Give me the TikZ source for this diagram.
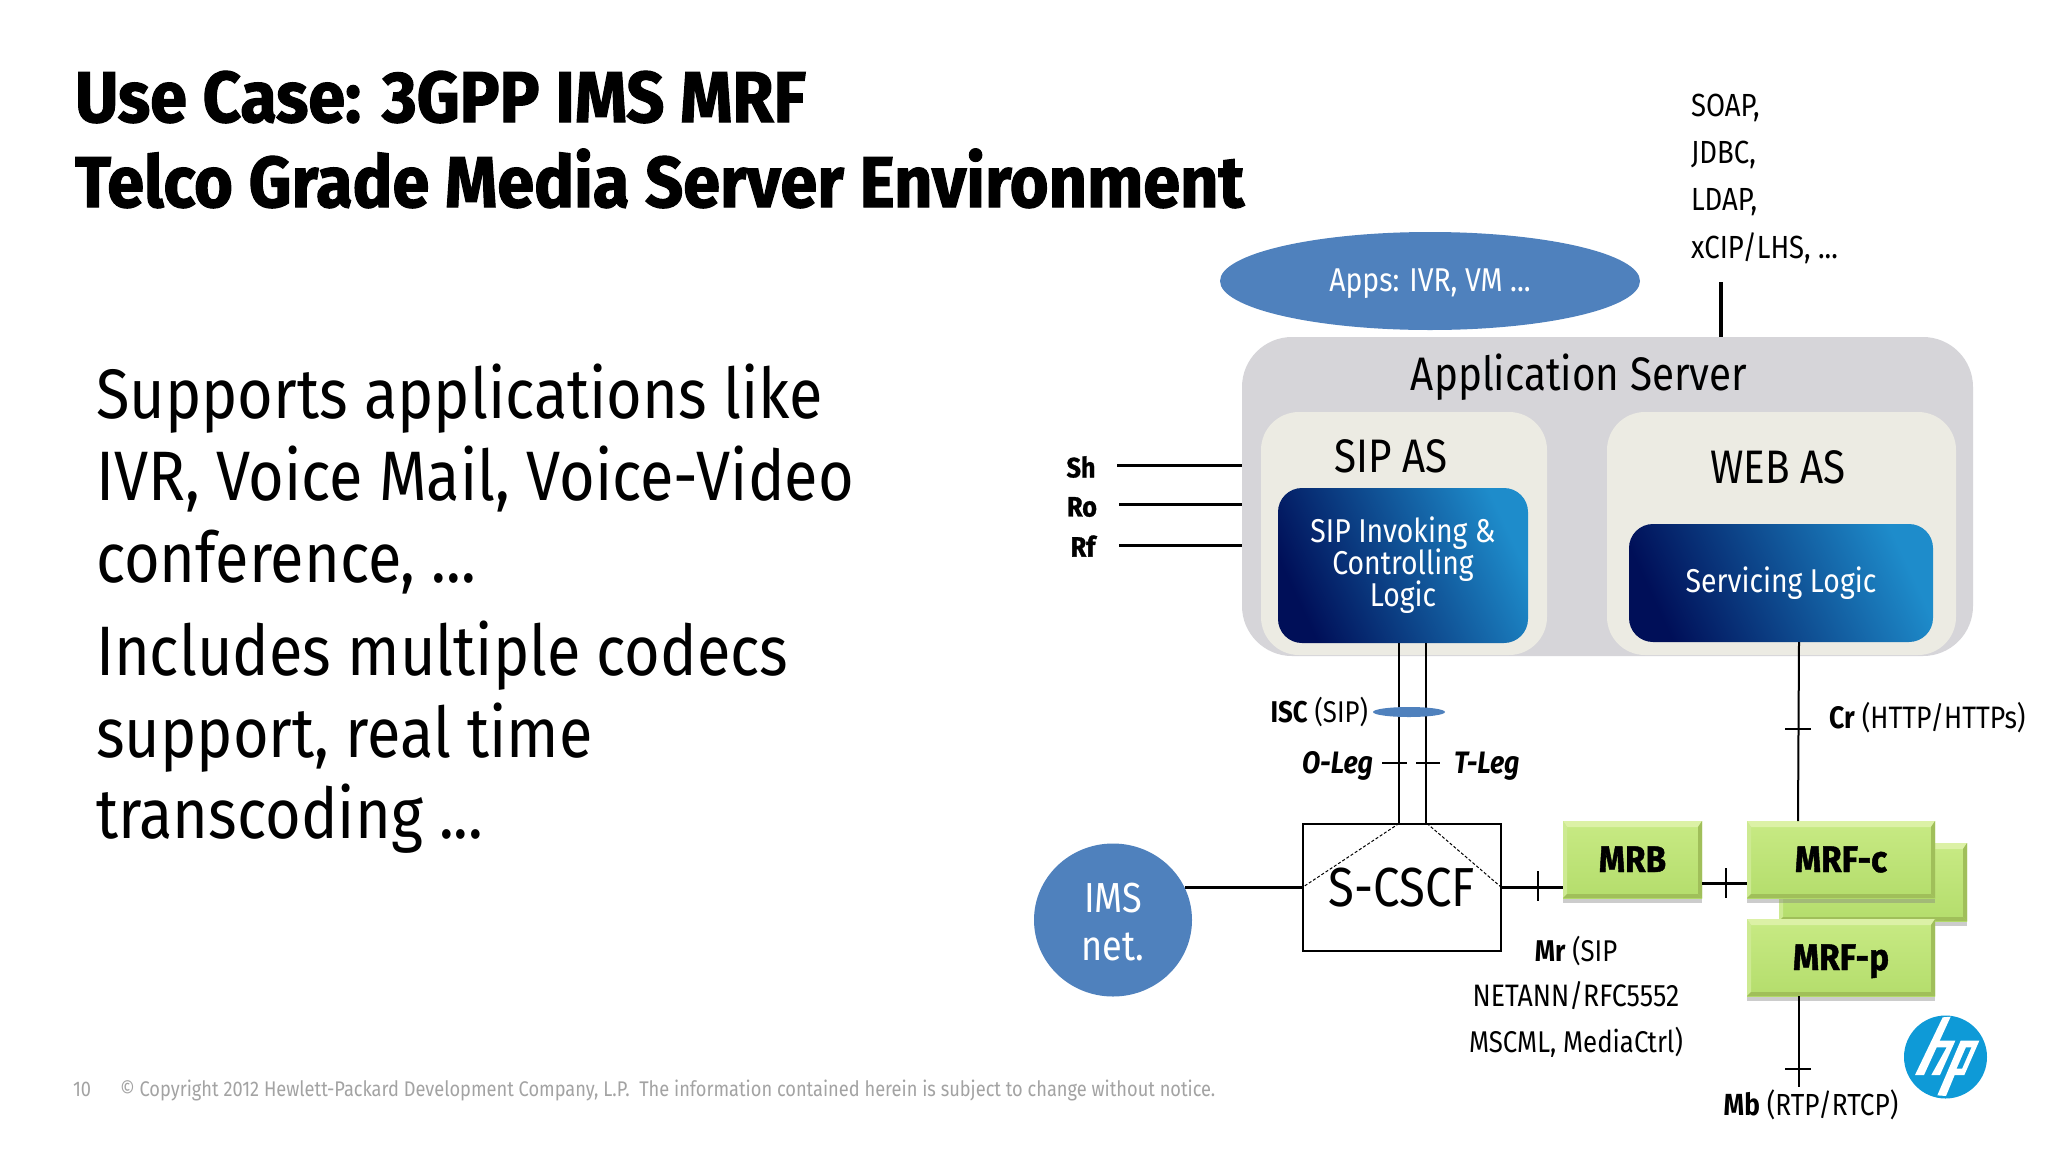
\documentclass[tikz,border=0pt]{standalone}
\usepackage{fontspec}
\setmainfont[FakeStretch=0.86]{Fira Sans}
\newfontfamily\heavyfont[FakeStretch=0.925,FakeBold=1.6]{Fira Sans Bold}
\newfontfamily\bodyfont[FakeStretch=0.875]{Fira Sans}
\newfontfamily\boxfont[FakeStretch=0.9,FakeBold=1.2]{Fira Sans Bold}
\usetikzlibrary{shapes.geometric,shadows}
\newcommand{\myfs}[1]{\fontsize{#1}{#1}\selectfont}
\definecolor{ablue}{HTML}{4F81BD}
\definecolor{asgrey}{HTML}{D6D5D9}
\definecolor{ascream}{HTML}{ECEBE3}
\definecolor{dkblue}{HTML}{000F58}
\definecolor{ltblue}{HTML}{1E8CCB}
\definecolor{grtop}{HTML}{C8EA84}
\definecolor{grbot}{HTML}{B4DD6C}
\definecolor{grlite}{HTML}{DCF1A6}
\definecolor{grleft}{HTML}{CDEA92}
\definecolor{grdark}{HTML}{A0BF5A}
\definecolor{foot}{HTML}{A3A3A3}
\definecolor{hpblue}{HTML}{0E9AD7}
\newcommand{\bevel}[1]{%
  \fill[grlite] (#1.north west) -- (#1.north east) -- ([shift={(-4pt,-6pt)}]#1.north east) -- ([shift={(4pt,-6pt)}]#1.north west) -- cycle;
  \fill[grleft] (#1.north west) -- ([shift={(4pt,-6pt)}]#1.north west) -- ([shift={(4pt,4pt)}]#1.south west) -- (#1.south west) -- cycle;
  \fill[grdark] (#1.north east) -- ([shift={(-4pt,-6pt)}]#1.north east) -- ([shift={(-4pt,4pt)}]#1.south east) -- (#1.south east) -- cycle;
  \fill[grdark] (#1.south west) -- ([shift={(4pt,4pt)}]#1.south west) -- ([shift={(-4pt,4pt)}]#1.south east) -- (#1.south east) -- cycle;}
\tikzset{
  x=1pt,y=-1pt,
  box/.style={inner sep=0pt,outer sep=0pt,align=center},
  wire/.style={draw=black,line width=3pt},
  thin wire/.style={draw=black,line width=2pt},
  tick/.style={draw=black,line width=2pt},
  graybox/.style={box,rectangle,rounded corners=50pt,fill=asgrey},
  cream/.style={box,rectangle,rounded corners=38pt,fill=ascream},
  logic/.style={box,rectangle,rounded corners=24pt,text=white,top color=ltblue,bottom color=dkblue,shading angle=-65},
  green/.style={box,rectangle,top color=grtop,bottom color=grbot,
     drop shadow={shadow xshift=0pt,shadow yshift=-5pt,fill=black!50,opacity=.4}},
  grtxt/.style={box,text height=24pt,text depth=0pt,font=\boxfont\myfs{37}},
  sm/.style={box,font=\myfs{32}},
  ttl/.style={box,anchor=base west,font=\heavyfont\myfs{72}},
  body/.style={box,anchor=base west,font=\bodyfont\myfs{70}},
  big/.style={box,font=\myfs{47}},
  ifl/.style={box,font=\boxfont\myfs{28}},
}
\begin{document}
\begin{tikzpicture}
\useasboundingbox (0,0) rectangle (2048,1152);
\fill[white] (0,0) rectangle (2048,1152);
% title and text
\node[ttl] (t1) at (75,122) {Use Case: 3GPP IMS MRF};
\node[ttl] (t2) at (75,207) {Telco Grade Media Server Environment};
\node[body] (b1) at (96,418) {Supports applications like};
\node[body] (b2) at (96,500) {IVR, Voice Mail, Voice-Video};
\node[body] (b3) at (96,582) {conference, ...};
\node[body] (b4) at (96,675) {Includes multiple codecs};
\node[body] (b5) at (96,757) {support, real time};
\node[body] (b6) at (96,838) {transcoding ...};
\node[box,anchor=base west,text=foot,font=\myfs{21.2}] (pg) at (73,1096) {10};
\node[box,anchor=base west,text=foot,font=\myfs{21.2}] (copy) at (120,1096) {© Copyright 2012 Hewlett-Packard Development Company, L.P.\ \ The information contained herein is subject to change without notice.};
% top
\node[box,ellipse,fill=ablue,minimum width=420pt,minimum height=98pt] (apps) at (1430,281) {};
\node[box,text=white,font=\myfs{33}] (appstxt) at (1430,284) {Apps: IVR, VM ...};
\node[sm,anchor=west] (soap) at (1691,108) {SOAP,};
\node[sm,anchor=west] (jdbc) at (1691,155) {JDBC,};
\node[sm,anchor=west] (ldap) at (1691,202) {LDAP,};
\node[sm,anchor=west] (xcip) at (1691,248) {xCIP/LHS, ...};
% application server
\node[graybox,minimum width=731pt,minimum height=319pt] (as) at (1607.5,496.5) {};
\node[big] (astxt) at (1579,377) {Application Server};
\node[cream,minimum width=286pt,minimum height=243pt] (sipas) at (1404,533.5) {};
\node[cream,minimum width=349pt,minimum height=243pt] (webas) at (1781.5,533.5) {};
\node[big] (siptxt) at (1391,456) {SIP AS};
\node[big] (webtxt) at (1778,467) {WEB AS};
\node[logic,minimum width=250pt,minimum height=155pt] (sipl) at (1403,565.5) {};
\node[box,text=white,font=\myfs{33}] (sipl1) at (1403,533) {SIP Invoking \&};
\node[box,text=white,font=\myfs{33}] (sipl2) at (1403,565) {Controlling};
\node[box,text=white,font=\myfs{33}] (sipl3) at (1403,597) {Logic};
\node[logic,minimum width=304pt,minimum height=118pt] (serv) at (1781,583) {};
\node[box,text=white,font=\myfs{33}] (servt) at (1781,583) {Servicing Logic};
% SOAP line
\coordinate (soapend) at (1721,282);
\draw[line width=3.4pt] (soapend) -- (soapend |- as.north);
% left interfaces
\coordinate (sh) at (1117,465);
\coordinate (ro) at (1119,504);
\coordinate (rf) at (1119,545);
\draw[wire] (sh) -- (sh -| as.west);
\draw[wire] (ro) -- (ro -| as.west);
\draw[wire] (rf) -- (rf -| as.west);
\node[ifl] (shl) at (1081,467) {Sh};
\node[ifl] (rol) at (1082,507) {Ro};
\node[ifl] (rfl) at (1083,546) {Rf};
% S-CSCF etc
\node[box,rectangle,draw=black,line width=2pt,minimum width=198pt,minimum height=127pt] (cscf) at (1402,887) {};
\node[box,font=\myfs{55}] (cscftxt) at (1402,888) {S-CSCF};
\node[box,ellipse,fill=ablue,minimum width=158pt,minimum height=153pt] (ims) at (1113,920) {};
\node[box,text=white,font=\myfs{42}] (ims1) at (1113,898) {IMS};
\node[box,text=white,font=\myfs{42}] (ims2) at (1113,947) {net.};
\node[green,minimum width=139pt,minimum height=77pt] (mrb) at (1632.5,859.5) {};
\bevel{mrb}
\node[grtxt] (mrbt) at (1632.5,860) {MRB};
\node[green,minimum width=188pt,minimum height=78pt] (back) at (1873,882) {};
\bevel{back}
\node[green,minimum width=188pt,minimum height=77pt] (mrfc) at (1841,859.5) {};
\bevel{mrfc}
\node[grtxt] (mrfct) at (1841,860) {MRF-c};
\node[green,minimum width=188pt,minimum height=77pt] (mrfp) at (1841,957.5) {};
\bevel{mrfp}
\node[grtxt] (mrfpt) at (1841,958) {MRF-p};
% connectors
\draw[thin wire] ([xshift=-4pt]sipl.south) -- ([xshift=-3pt]cscf.north);
\draw[thin wire] ([xshift=23pt]sipl.south) -- ([xshift=24pt]cscf.north);
\node[box,ellipse,fill=ablue,minimum width=72pt,minimum height=10pt] (isc) at (1409,712) {};
\node[box,anchor=east,font=\myfs{30}] (isctxt) at (1368,712) {\textbf{ISC} (SIP)};
\coordinate (ol) at (1382,763);
\coordinate (ole) at (1407,763);
\coordinate (tl) at (1416,763);
\coordinate (tle) at (1440,763);
\draw[tick] (ol) -- (ole);
\draw[tick] (tl) -- (tle);
\node[box,anchor=east,font=\bfseries\itshape\myfs{31}] (oleg) at (1373,766) {O-Leg};
\node[box,anchor=west,font=\bfseries\itshape\myfs{31}] (tleg) at (1454,766) {T-Leg};
\draw[densely dashed,line width=1pt] ([xshift=-3pt]cscf.north) -- (cscf.west);
\draw[densely dashed,line width=1pt] ([xshift=25pt]cscf.north) -- (cscf.east);
\draw[line width=3pt] ([xshift=-7pt]ims.east |- cscf.west) -- (cscf.west);
\draw[line width=3pt] (cscf.east) -- (mrb.west |- cscf.east);
\coordinate (t1a) at (1538,871);
\coordinate (t1b) at (1538,901);
\draw[tick] (t1a) -- (t1b);
\coordinate (mm) at (mrb.east |- 0,883);
\draw[line width=3pt] (mm) -- (mm -| mrfc.west);
\coordinate (t2a) at (1726,868);
\coordinate (t2b) at (1726,898);
\draw[tick] (t2a) -- (t2b);
\draw[thin wire] ([xshift=18pt]serv.south) -- ([xshift=-43pt]mrfc.north);
\coordinate (t3a) at (1785,729);
\coordinate (t3b) at (1811,729);
\draw[tick] (t3a) -- (t3b);
\node[box,anchor=west,font=\myfs{31}] (cr) at (1829,718) {\textbf{Cr} (HTTP/HTTPs)};
\coordinate (mbend) at (1799,1087);
\draw[thin wire] (mbend |- mrfp.south) -- (mbend);
\coordinate (t4a) at (1785,1069);
\coordinate (t4b) at (1811,1069);
\draw[tick] (t4a) -- (t4b);
\node[box,font=\myfs{30.5}] (mb) at (1811,1105) {\textbf{Mb} (RTP/RTCP)};
\node[box,font=\myfs{30}] (mr1) at (1576,951) {\textbf{Mr} (SIP};
\node[box,font=\myfs{31}] (mr2) at (1576,996) {NETANN/RFC5552};
\node[box,font=\myfs{30}] (mr3) at (1576,1042) {MSCML, MediaCtrl)};
% HP logo
\node[box,circle,fill=hpblue,minimum size=83pt] (hp) at (1945.5,1057) {};
\begin{scope}[shift={(1720,800)},scale=1/3]
\fill[white] (668,652) -- (692,650) -- (612,825) -- (585,825) -- cycle;
\fill[white] (652,722) -- (706,722) -- (660,825) -- (634,825) -- (680,742) -- (642,742) -- cycle;
\fill[white] (722,722) -- (778,722) -- (733,825) -- (704,825) -- (678,888) -- (652,886) -- cycle;
\fill[hpblue] (738,742) -- (754,742) -- (726,806) -- (710,806) -- cycle;
\end{scope}
\end{tikzpicture}
\end{document}
